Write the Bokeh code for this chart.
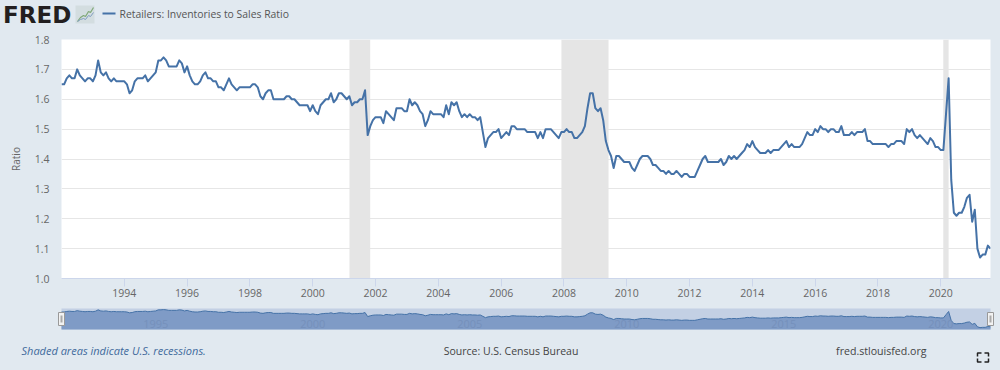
from bokeh.plotting import figure
from bokeh.embed import file_html
from bokeh.resources import INLINE
from bokeh.layouts import column
from bokeh.core.properties import value
from bokeh.models import FixedTicker, Range1d, NumeralTickFormatter
import numpy as np

START_YEAR = 1992
ratio = [
 1.65,1.65,1.67,1.68,1.67,1.67,1.70,1.68,1.67,1.66,1.67,1.67,
 1.66,1.68,1.73,1.69,1.68,1.69,1.67,1.66,1.67,1.66,1.66,1.66,
 1.66,1.65,1.62,1.63,1.66,1.67,1.67,1.67,1.68,1.66,1.67,1.68,
 1.69,1.73,1.73,1.74,1.73,1.71,1.71,1.71,1.71,1.73,1.72,1.69,
 1.71,1.68,1.66,1.65,1.65,1.66,1.68,1.69,1.67,1.67,1.66,1.66,
 1.64,1.64,1.63,1.65,1.67,1.65,1.64,1.63,1.64,1.64,1.64,1.64,
 1.64,1.65,1.65,1.64,1.61,1.60,1.62,1.63,1.63,1.60,1.60,1.60,
 1.60,1.60,1.61,1.61,1.60,1.60,1.59,1.58,1.58,1.58,1.58,1.56,
 1.58,1.56,1.55,1.58,1.59,1.60,1.60,1.62,1.59,1.60,1.62,1.62,
 1.61,1.60,1.61,1.58,1.59,1.59,1.60,1.60,1.63,1.48,1.51,1.53,
 1.54,1.54,1.54,1.52,1.56,1.55,1.54,1.53,1.57,1.57,1.57,1.56,
 1.56,1.60,1.58,1.59,1.58,1.56,1.55,1.51,1.53,1.56,1.55,1.55,
 1.55,1.55,1.54,1.58,1.55,1.59,1.58,1.59,1.56,1.54,1.55,1.54,
 1.55,1.54,1.54,1.53,1.54,1.49,1.44,1.47,1.48,1.49,1.49,1.50,
 1.47,1.48,1.49,1.48,1.51,1.51,1.50,1.50,1.50,1.50,1.49,1.49,
 1.49,1.49,1.47,1.49,1.47,1.50,1.50,1.50,1.49,1.48,1.47,1.49,
 1.49,1.50,1.49,1.49,1.47,1.47,1.48,1.49,1.51,1.57,1.62,1.62,
 1.57,1.56,1.57,1.53,1.46,1.43,1.41,1.37,1.41,1.41,1.40,1.39,
 1.39,1.39,1.37,1.36,1.38,1.40,1.41,1.41,1.41,1.40,1.38,1.38,
 1.37,1.36,1.36,1.35,1.36,1.35,1.35,1.36,1.35,1.34,1.35,1.35,
 1.34,1.34,1.34,1.36,1.38,1.40,1.41,1.39,1.39,1.39,1.39,1.39,
 1.40,1.38,1.39,1.41,1.40,1.41,1.40,1.41,1.42,1.43,1.45,1.44,
 1.46,1.44,1.43,1.42,1.42,1.42,1.43,1.42,1.43,1.43,1.43,1.44,
 1.45,1.46,1.44,1.45,1.44,1.44,1.44,1.45,1.47,1.49,1.48,1.48,
 1.50,1.49,1.51,1.50,1.50,1.49,1.50,1.50,1.49,1.49,1.51,1.48,
 1.48,1.48,1.49,1.48,1.49,1.49,1.49,1.50,1.46,1.46,1.45,1.45,
 1.45,1.45,1.45,1.45,1.44,1.45,1.45,1.46,1.46,1.46,1.45,1.50,
 1.49,1.50,1.48,1.47,1.48,1.47,1.46,1.45,1.47,1.46,1.44,1.44,
 1.43,1.43,1.55,1.67,1.33,1.22,1.21,1.22,1.22,1.24,1.27,1.28,
 1.19,1.23,1.10,1.07,1.08,1.08,1.11,1.10,
]
recession_start = [2001.17, 2007.92, 2020.08]
recession_end = [2001.83, 2009.42, 2020.25]
x_ticks = list(range(1994, 2021, 2))
y_ticks = [1.0, 1.1, 1.2, 1.3, 1.4, 1.5, 1.6, 1.7, 1.8]
nav_years = [1995, 2000, 2005, 2010, 2015, 2020]
title = "Retailers: Inventories to Sales Ratio"
footer_left = "Shaded areas indicate U.S. recessions."
footer_mid = "Source: U.S. Census Bureau"
footer_right = "fred.stlouisfed.org"

x = START_YEAR + np.arange(len(ratio)) / 12
x0, x1 = float(x[0]), float(x[-1])
BG = "#e1e9f0"
BLUE = "#4572a7"
FONT = "Open Sans"
GREY = "#666666"
LEFT, RIGHT = 61, 10


def txt(fig, xp, yp, text, font=FONT, size="11px", color=GREY, style="normal", align="left", **kw):
    fig.text(x=[xp], y=[yp], text=[text], text_font=value(font), text_font_size=size,
             text_color=color, text_font_style=style, text_align=align, text_baseline="middle", **kw)


# ---- header: frame covers the canvas, its ranges are the pixels
head = figure(width=1000, height=30, output_backend="svg", toolbar_location=None, frame_align=False,
              x_range=Range1d(0, 1000), y_range=Range1d(30, 0),
              min_border=0, background_fill_color=BG, border_fill_color=BG, outline_line_color=None)
head.axis.visible = False
head.grid.visible = False
txt(head, 2.5, 14.5, "FRED", font="DejaVu Sans", size="23px", color="#231f20", style="bold")
head.quad(left=[75], right=[94], top=[5], bottom=[23], fill_color="#d3dde0", line_color=None)
head.line([77, 80, 83, 85, 88, 90, 93], [21, 17, 15, 16, 11, 12, 7], line_color="#7fa878", line_width=1.2)
head.line([77, 80, 83, 85, 88, 90, 93], [21, 19, 18, 19, 15, 16, 12], line_color="#7f9cc0", line_width=1)
head.line([102, 115], [13, 13], line_color=BLUE, line_width=2)
txt(head, 119, 13.5, title, color="#555555", size="10.4px")

# ---- main chart
p = figure(width=1000, height=270, output_backend="svg", toolbar_location=None, frame_align=False,
           x_range=Range1d(x0, x1), y_range=Range1d(1.0, 1.8),
           min_border_left=LEFT, min_border_right=RIGHT, min_border_top=9, min_border_bottom=22,
           background_fill_color="white", border_fill_color=BG, outline_line_color=None)
p.xgrid.visible = False
p.ygrid.grid_line_color = "#e6e6e6"
p.ygrid.ticker = FixedTicker(ticks=y_ticks)
p.xaxis.ticker = FixedTicker(ticks=x_ticks)
p.xaxis.formatter.use_scientific = False
p.xaxis.minor_tick_line_color = None
p.xaxis.axis_line_color = "#ccd6eb"
p.xaxis.major_tick_line_color = "#ccd6eb"
p.xaxis.major_tick_in = 0
p.xaxis.major_tick_out = 8
p.xaxis.major_label_standoff = 2
p.yaxis.ticker = FixedTicker(ticks=y_ticks)
p.yaxis.formatter = NumeralTickFormatter(format="0.0")
p.yaxis.minor_tick_line_color = None
p.yaxis.major_tick_line_color = None
p.yaxis.axis_line_color = None
p.yaxis.major_label_standoff = 6
p.yaxis.axis_label = "Ratio"
p.yaxis.axis_label_text_font = FONT
p.yaxis.axis_label_text_font_size = "10px"
p.yaxis.axis_label_text_font_style = "normal"
p.yaxis.axis_label_text_color = GREY
p.yaxis.axis_label_standoff = 9
for ax in (p.xaxis, p.yaxis):
    ax.major_label_text_font = FONT
    ax.major_label_text_font_size = "10.5px"
    ax.major_label_text_color = GREY
p.quad(left=recession_start, right=recession_end, bottom=1.0, top=1.8,
       fill_color="#e5e5e5", line_color=None)
p.line(x, ratio, line_color=BLUE, line_width=2, line_join="round")

# ---- navigator and footer: full-canvas frame, data ranges stretched so the band falls at 61..990 x 8..29
W, H = 1000, 70
NAV_TOP, NAV_BOT = 8, 29
NAV_LO, NAV_HI = 1.0, 1.78
sx = (x1 - x0) / (W - LEFT - RIGHT)
sy = (NAV_HI - NAV_LO) / (NAV_BOT - NAV_TOP)
nav = figure(width=W, height=H, output_backend="svg", toolbar_location=None, frame_align=False,
             x_range=Range1d(x0 - LEFT * sx, x1 + RIGHT * sx),
             y_range=Range1d(NAV_LO - (H - NAV_BOT) * sy, NAV_HI + NAV_TOP * sy),
             extra_x_ranges={"px": Range1d(0, W)}, extra_y_ranges={"px": Range1d(H, 0)},
             min_border=0, background_fill_color=BG, border_fill_color=BG, outline_line_color=None)
nav.axis.visible = False
nav.grid.visible = False
nav.quad(left=[x0], right=[x1], bottom=[NAV_LO], top=[NAV_HI], fill_color="#c3d0e4", line_color=None)
nav.varea(x, y1=NAV_LO, y2=ratio, fill_color="#7f9bc6")
nav.line(x, ratio, line_color=BLUE, line_width=1)
nav.text(x=nav_years, y=[1.22] * len(nav_years), text=[str(v) for v in nav_years],
         text_font=value(FONT), text_font_size="11px", text_color="#7590bb",
         text_align="center", text_baseline="middle")
PX = dict(x_range_name="px", y_range_name="px")
for l in (58, 987):
    nav.quad(left=[l], right=[l + 6], top=[12], bottom=[25], fill_color="#f2f2f2", line_color="#999999", **PX)
    nav.quad(left=[l + 2], right=[l + 4], top=[15], bottom=[22], fill_color="#aaaaaa", line_color=None, **PX)
txt(nav, 21, 50, footer_left, style="italic", color="#3f6a9c", **PX)
txt(nav, 510.5, 50, footer_mid, color="#444444", align="center", size="10.5px", **PX)
txt(nav, 926, 50, footer_right, color="#444444", align="right", size="10.6px", **PX)
for xs, ys in [([977, 977, 981], [56, 52.5, 52.5]), ([984, 988, 988], [52.5, 52.5, 56]),
               ([977, 977, 981], [58, 61.5, 61.5]), ([984, 988, 988], [61.5, 61.5, 58])]:
    nav.line(xs, ys, line_color="#222222", line_width=1.5, **PX)

page = column(head, p, nav, spacing=0, styles={"position": "fixed", "left": "0", "top": "0", "background": BG})
open("out.html", "w").write(file_html(page, INLINE))
